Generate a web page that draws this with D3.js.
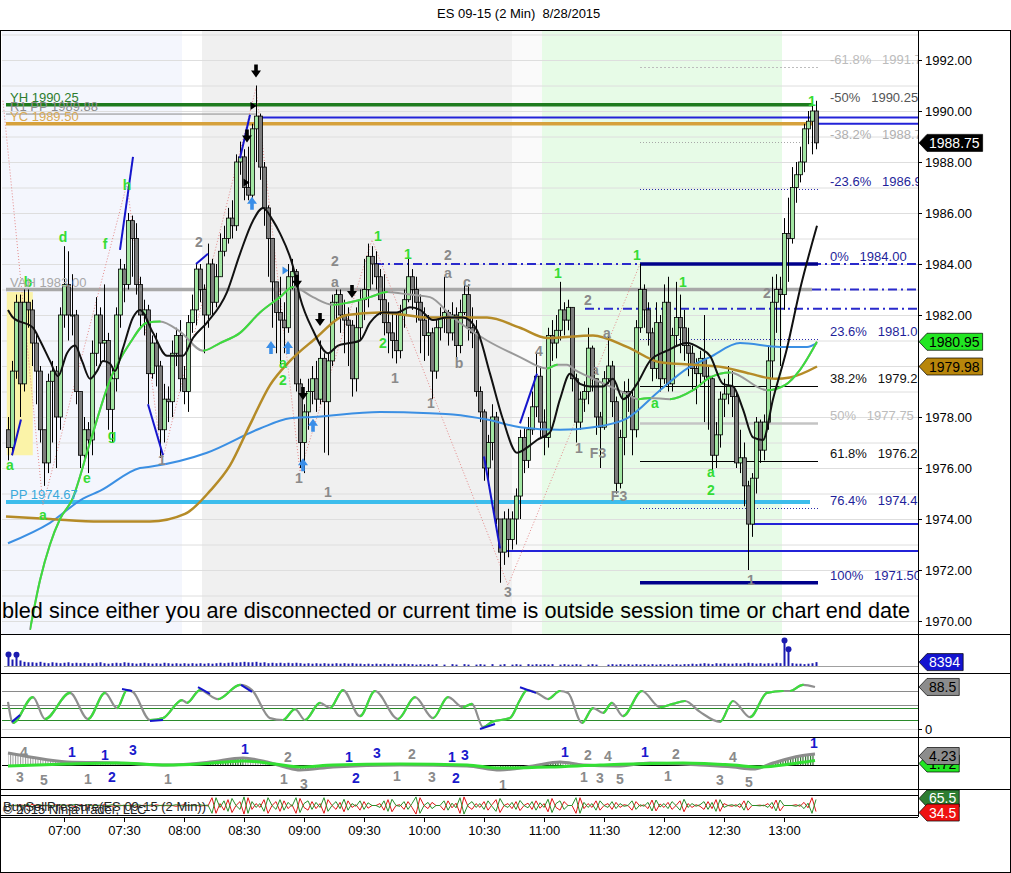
<!DOCTYPE html>
<html>
<head>
<meta charset="utf-8">
<title>ES 09-15 (2 Min) 8/28/2015</title>
<script src="https://cdn.jsdelivr.net/npm/d3@7"></script>
<style>
  body { margin: 0; background: #fff; }
  svg text { font-family: Arial, "Liberation Sans", sans-serif; }
</style>
</head>
<body>
<div id="chart"></div>
<script>
// ---- data ----
const chartTitle = 'ES 09-15 (2 Min)  8/28/2015';
const firstBarTime = '06:32', lastBarTime = '13:16';
const timeTicks = ['07:00','07:30','08:00','08:30','09:00','09:30','10:00','10:30','11:00','11:30','12:00','12:30','13:00'];
const priceTicks = [1970, 1972, 1974, 1976, 1978, 1980, 1982, 1984, 1986, 1988, 1990, 1992];
const firstOpen = 1977.5;

const closes = [
 1976.8,1979.8,1982.5,1979.3,1982.5,1982.2,1980.9,1979.8,1977.5,1976.2,
 1979.4,1979.8,1978.0,1982.0,1983.2,1982.0,1982.0,1979.0,1976.5,1977.5,
 1977.1,1980.5,1982.0,1980.9,1981.0,1978.3,1979.5,1982.0,1983.8,1983.2,
 1985.7,1985.0,1983.2,1982.0,1982.2,1979.7,1980.9,1980.0,1977.5,1978.7,
 1978.6,1980.5,1981.2,1979.5,1979.0,1981.7,1982.2,1983.8,1983.0,1982.0,
 1984.0,1982.5,1983.5,1984.5,1985.0,1985.8,1985.5,1988.0,1988.2,1987.0,
 1986.7,1989.3,1989.8,1987.8,1986.2,1985.0,1983.3,1982.1,1981.8,1981.5,
 1983.5,1983.7,1979.3,1977.0,1978.2,1979.0,1979.5,1978.7,1980.3,1978.6,
 1980.2,1982.5,1982.8,1982.0,1981.8,1981.6,1979.5,1981.5,1982.6,1983.0,
 1984.3,1984.0,1983.5,1982.6,1981.7,1981.3,1981.0,1980.6,1982.0,1982.6,
 1983.5,1983.0,1982.5,1981.8,1981.2,1981.3,1979.8,1981.5,1981.9,1982.1,
 1981.3,1982.0,1980.8,1982.1,1982.8,1981.5,1981.3,1979.0,1978.2,1976.0,
 1977.0,1978.0,1974.0,1972.7,1974.0,1973.2,1974.0,1974.9,1977.2,1976.3,
 1977.5,1978.4,1979.6,1977.8,1977.2,1981.2,1980.9,1981.4,1982.2,1981.8,
 1982.3,1979.5,1977.8,1978.7,1979.0,1980.7,1979.5,1978.0,1977.6,1979.5,
 1980.0,1978.6,1975.4,1977.2,1979.0,1978.8,1977.5,1981.5,1983.0,1982.2,
 1981.3,1979.9,1981.7,1979.5,1982.5,1979.3,1981.2,1981.9,1981.5,1980.8,
 1980.5,1979.9,1979.7,1980.3,1979.6,1979.5,1976.5,1977.3,1978.7,1978.9,
 1979.2,1978.8,1976.2,1976.4,1975.3,1973.8,1975.6,1977.8,1976.7,1977.8,
 1980.2,1982.5,1983.0,1982.8,1985.2,1985.0,1987.0,1987.5,1988.0,1989.3,
 1989.6,1990.0,1988.75];

const highs = [
 1978.0,1980.2,1982.8,1982.8,1983.0,1983.0,1982.6,1981.3,1980.0,1977.5,
 1979.7,1980.2,1980.0,1982.3,1984.7,1984.5,1983.6,1982.2,1978.5,1978.0,
 1977.8,1981.0,1982.7,1982.3,1983.2,1981.3,1980.0,1982.3,1984.2,1984.0,
 1986.0,1985.9,1985.6,1983.5,1982.6,1982.4,1981.2,1981.3,1980.2,1979.3,
 1979.2,1981.0,1981.5,1981.8,1980.0,1982.0,1982.8,1984.0,1984.0,1983.2,
 1984.8,1984.2,1984.0,1985.2,1985.5,1986.2,1986.5,1988.3,1988.8,1988.5,
 1988.6,1989.5,1991.0,1989.9,1988.0,1986.3,1985.0,1983.3,1983.5,1982.5,
 1984.0,1984.2,1983.8,1979.5,1978.5,1979.5,1980.0,1980.2,1981.0,1980.5,
 1980.5,1982.8,1983.0,1983.0,1982.6,1982.3,1981.8,1982.3,1983.0,1984.2,
 1984.8,1984.7,1984.5,1983.8,1983.6,1982.5,1982.1,1982.1,1982.4,1983.0,
 1984.3,1983.8,1983.5,1982.8,1982.3,1982.0,1981.5,1981.8,1982.3,1983.5,
 1982.2,1982.5,1982.3,1982.6,1983.2,1983.2,1982.3,1981.8,1979.2,1978.3,
 1977.3,1978.5,1978.2,1974.0,1974.3,1974.4,1974.3,1975.2,1977.5,1977.6,
 1978.0,1979.0,1980.5,1980.0,1978.3,1981.5,1981.8,1982.0,1983.3,1982.5,
 1982.6,1982.3,1979.7,1979.0,1979.4,1981.5,1980.8,1979.5,1978.2,1979.8,
 1981.2,1980.2,1978.8,1977.5,1979.4,1979.5,1979.0,1981.8,1984.0,1983.2,
 1982.5,1981.5,1982.5,1982.0,1983.2,1983.5,1981.5,1983.3,1982.8,1982.2,
 1981.5,1980.8,1980.3,1980.6,1982.0,1980.0,1979.6,1977.8,1979.0,1979.5,
 1980.0,1979.8,1979.0,1977.5,1977.0,1975.5,1975.8,1978.0,1977.9,1978.1,
 1980.8,1983.5,1983.6,1983.5,1985.8,1986.6,1987.8,1988.0,1988.6,1989.5,
 1990.0,1990.5,1990.4];

const lows = [
 1976.3,1976.5,1979.5,1978.0,1979.0,1981.5,1980.0,1978.5,1977.0,1975.3,
 1975.8,1977.0,1976.0,1977.5,1981.5,1981.0,1981.2,1978.5,1976.0,1976.3,
 1975.8,1976.5,1980.0,1980.0,1980.2,1977.5,1977.0,1979.0,1981.5,1982.5,
 1983.0,1983.5,1982.8,1981.5,1981.2,1978.5,1979.5,1979.2,1976.4,1977.0,
 1977.8,1978.0,1980.0,1979.0,1978.5,1978.2,1981.3,1981.6,1982.5,1980.5,
 1981.5,1982.0,1982.3,1983.5,1984.3,1984.8,1985.0,1985.3,1987.5,1986.5,
 1986.5,1986.6,1988.0,1987.3,1985.5,1983.5,1981.5,1980.5,1980.0,1980.5,
 1981.3,1983.0,1979.0,1976.0,1975.8,1977.5,1978.5,1978.2,1978.5,1976.6,
 1976.5,1980.0,1981.8,1981.3,1980.5,1980.0,1978.8,1979.0,1981.0,1981.8,
 1982.3,1983.2,1983.0,1982.0,1981.2,1980.5,1980.3,1980.1,1980.3,1981.5,
 1982.5,1982.2,1981.7,1980.5,1980.2,1980.4,1978.7,1979.5,1981.0,1981.3,
 1980.8,1981.0,1980.3,1980.5,1982.0,1981.0,1980.7,1978.8,1977.8,1975.5,
 1975.3,1976.3,1973.8,1971.5,1972.2,1972.5,1972.8,1973.0,1974.0,1975.8,
 1976.0,1977.3,1978.0,1977.2,1976.5,1976.8,1980.2,1980.3,1981.0,1981.2,
 1981.4,1979.0,1977.0,1977.5,1978.2,1978.5,1979.0,1977.3,1976.0,1977.5,
 1979.3,1978.0,1975.0,1975.2,1976.5,1978.2,1976.5,1977.2,1981.3,1981.5,
 1980.8,1979.4,1979.5,1979.0,1979.3,1979.0,1979.0,1980.8,1980.5,1980.2,
 1979.6,1979.0,1978.5,1979.2,1977.8,1977.5,1975.8,1976.0,1976.8,1978.0,
 1978.5,1978.0,1976.0,1975.8,1974.5,1972.0,1973.3,1975.0,1976.2,1976.3,
 1977.5,1979.5,1981.3,1980.0,1982.2,1983.3,1984.8,1986.4,1987.2,1987.6,
 1988.7,1988.3,1988.5];

// volume in thousands of contracts
const volumes = [
 25,14,24,12,9,8,8,7,9,7,  6,8,7,6,7,8,6,7,6,7,  6,6,7,8,6,5,6,7,6,8,  7,6,5,6,7,6,5,6,5,7,
 6,5,6,5,6,5,6,5,6,5,  6,5,6,7,6,7,8,7,8,9,  8,8,9,7,8,6,7,6,7,6,  7,6,7,6,5,6,5,6,5,6,
 5,5,6,5,6,5,6,5,5,4,  5,4,5,4,5,4,5,4,4,5,  4,4,3,4,3,4,3,4,0,3,  0,4,3,0,4,3,0,3,4,3,
 0,4,0,3,4,0,3,4,3,0,  4,3,4,3,4,3,4,0,3,4,  3,3,4,3,0,3,4,3,0,0,  3,4,3,4,3,4,3,4,3,4,
 3,4,3,4,3,4,3,4,3,4,  4,5,4,5,6,5,4,6,5,6,  5,5,6,5,6,7,6,5,6,5,  6,5,7,6,55,36,6,5,5,4,
 5,6,8.394];

const buyPressure = [
 52,49,51,48,50,53,47,50,52,49, 51,50,48,52,50,49,51,53,48,50, 52,49,50,51,48,50,52,50,49,51,
 50,48,52,51,49,50,52,48,50,51, 49,50,52,50,48,51,50,49,52,50, 51,
 30,70,45,62,35,68,50,40,72,30, 60,45,55,35,70,50,40,65,38,58, 48,70,32,55,62,40,58,45,70,35,
 50,60,42,66,38,55,48,62,40,57, 50,50,45,62,35,66,50,48,60,40, 55,72,30,50,58,42,50,50,62,38,
 56,44,70,28,52,60,45,55,40,62, 48,35,68,50,45,58,40,63,50,44, 60,38,57,45,66,32,55,62,40,50,
 50,70,30,58,45,55,38,62,50,45, 60,42,55,48,50,62,40,52,48,58, 36,64,46,55,42,60,50,38,66,45,
 55,48,52,60,40,58,35,65,45,50, 52,48,55,38,62,50,50,49,51,45, 58,36,64,50,50,50,48,52,42,56,
 30,65.5];

// moving averages as [bar, price]
const fastMA = [[0,1982.2],[1.25,1981.9],[6.25,1981.5],[8,1981.0],[10.5,1980.2],[12.5,1979.6],[14.75,1980.5],[16.75,1980.8],[18.5,1980.2],[20.5,1979.5],[22.25,1979.8],[23.75,1980.2],[25.5,1980.1],[26.75,1979.8],[28.75,1980.7],[31.25,1981.9],[33,1982.2],[36.25,1981.3],[39.75,1980.4],[43.75,1980.4],[46.25,1981.1],[49.75,1981.7],[54.75,1982.9],[58,1984.4],[61.25,1985.7],[63.75,1986.2],[66.25,1985.7],[68,1985.2],[71.25,1983.9],[73,1982.7],[76.25,1981.4],[80,1980.5],[82.5,1980.8],[85.5,1980.9],[88,1981.0],[90.5,1981.7],[93.75,1982.1],[97.25,1982.1],[100.5,1982.3],[103,1982.2],[106.25,1981.8],[109.75,1981.9],[113.75,1981.9],[117.25,1981.4],[120.5,1979.7],[123.75,1977.9],[127.25,1976.6],[129.75,1976.8],[132.25,1977.1],[135.5,1977.4],[138,1978.7],[140.5,1979.7],[143,1979.3],[145.5,1979.2],[148.75,1979.2],[151.25,1979.5],[153.75,1978.7],[157.25,1979.3],[160.5,1980.2],[164.75,1980.6],[169.75,1980.9],[173,1980.7],[175.5,1980.4],[178.75,1979.3],[181.25,1979.2],[183.75,1978.3],[186.25,1977.2],[188.75,1977.1],[191.25,1978.7],[194.75,1980.7],[198,1983.0],[202.25,1985.5]];
const midMA = [[5.5,1969.65],[8,1971.6],[10.5,1973.0],[13,1974.0],[16,1974.75],[20.5,1977.0],[25.5,1979.45],[30.5,1980.9],[34.75,1981.7],[38,1981.75],[43,1981.35],[48.75,1980.6],[53,1980.9],[58,1981.3],[63,1982.1],[68,1982.7],[71.25,1983.1],[76.25,1982.7],[81.25,1982.4],[85.5,1982.5],[90.5,1982.7],[94.75,1982.9],[100.5,1982.8],[105.5,1982.7],[111.25,1981.9],[119.75,1981.0],[128,1980.35],[134.75,1979.9],[137.25,1980.05],[139.75,1980.05],[141.75,1979.85],[146.25,1979.5],[154.75,1978.9],[157.5,1978.7],[160.5,1978.75],[165.5,1978.7],[171.25,1979.05],[175.5,1979.55],[180.5,1979.75],[189.75,1979.05],[194.25,1979.25],[198,1979.85],[202.25,1980.95]];
const slowMA = [[-0.5,1974.1],[10.5,1974.0],[23,1973.9],[35.5,1973.9],[44.25,1974.2],[50.5,1975.1],[55.5,1976.1],[60.5,1977.7],[65.5,1979.25],[70.5,1980.2],[76.25,1981.0],[84.75,1982.0],[93,1982.1],[105.5,1981.9],[119.75,1981.9],[128,1981.5],[134.75,1981.1],[146.25,1981.2],[154.75,1980.75],[163,1980.15],[171.25,1980.05],[178.75,1979.95],[185.5,1979.7],[191.75,1979.5],[195.5,1979.55],[202.25,1979.98]];
const longMA = [[0,1973.05],[10.5,1973.85],[18.75,1974.8],[23,1975.1],[33,1976.0],[35.5,1976.05],[49.75,1976.6],[63,1977.55],[70.5,1977.95],[76.25,1978.0],[93,1978.2],[105.5,1978.15],[111.25,1978.1],[119.75,1977.9],[128,1977.6],[138,1977.5],[146.25,1977.6],[154.75,1977.95],[163,1979.05],[169.75,1979.9],[175.5,1980.35],[183,1980.9],[193,1980.75],[199.75,1980.75],[202.25,1980.9]];

// horizontal levels [price, fromBar, toBar (null = to axis), kind]
const levelLines = [
  [1983.00, -0.5, 201, 'vah'],
  [1974.67, -0.5, 200.5, 'pp'],
  [1989.88, -0.5, 62, 'r1'],
  [1989.75, 62, null, 'blue'],
  [1989.50, 202.25, null, 'blue'],
  [1990.25, -0.5, 201, 'yh'],
  [1989.50, -0.5, 201, 'yc'],
  [1984.00, 91.75, null, 'dashdot'],
  [1983.00, 201, null, 'dashdot'],
  [1982.25, 144.25, null, 'dashdot'],
  [1973.80, 186, null, 'blue'],
  [1972.75, 123, null, 'blue'],
  [1984.00, 158, 202.5, 'navy'],
  [1971.50, 158, 202.5, 'navy']
];
const levelTexts = [['YH 1990.25', 1990.25, 'yh'], ['R1 PP 1989.88', 1989.88, 'r1'], ['YC 1989.50', 1989.50, 'yc'], ['VAH 1983.00', 1983.00, 'vah'], ['PP 1974.67', 1974.67, 'pp']];

const fibLabels = ['-61.8%','-50%','-38.2%','-23.6%','0%','23.6%','38.2%','50%','61.8%','76.4%','100%'];
const fibPrices = [1991.73, 1990.25, 1988.78, 1986.95, 1984.00, 1981.05, 1979.23, 1977.75, 1976.28, 1974.45, 1971.50];
const fibSpan = [158, 202.5];

const sessionStarts = ['06:29','08:09','10:44','10:59'];
const sessionEnds = ['07:59','10:44','10:59','12:59'];
const valueZone = [-0.3, 6.2, 1976.5, 1982.9];

const swingPoints = [[-1.25,1990.4],[8.75,1974.55],[29.75,1987.15],[38.5,1976.25],[62,1990.9],[73,1975.85],[91,1984.95],[125,1971.4],[158,1984.0]];
const trendSegments = [[1,1976.5,3.25,1977.9],[28,1984.55,31.25,1988.2],[35,1978.5,38.75,1976.5],[47,1984.0,50,1984.4],[58,1988.15,60.5,1989.85],[119,1976.45,123,1972.85],[128,1977.75,132.25,1979.7]];
const downArrows = [[62,1991.55],[59.75,1989.0],[72.25,1983.3],[78,1981.8],[86,1982.9],[73.75,1978.9]];
const upArrows = [[61,1986.4],[65.75,1980.75],[70,1980.75],[76.25,1977.7],[73.75,1976.15]];
const sideMarks = [[61.25,1990.2,'#000'],[59.5,1987.2,'#000'],[69.25,1983.75,'#3a8ee8']];

const greenLabels = [[0.5,1976.1,'a'],[5,1983.3,'b'],[13.75,1985.05,'d'],[24.25,1984.8,'f'],[29.75,1987.1,'h'],[19.75,1975.6,'e'],[26,1977.3,'g'],[8.75,1974.15,'a'],
  [92.5,1985.1,'1'],[100,1984.4,'1'],[93.75,1980.9,'2'],[68.75,1980.1,'a'],[68.75,1979.45,'2'],[137.5,1983.65,'1'],[157.25,1984.35,'1'],[168.75,1983.3,'1'],
  [161.75,1978.55,'a'],[175.75,1975.85,'a'],[175.75,1975.15,'2'],[201,1990.4,'1']];
const grayLabels = [[47.75,1984.85,'2'],[38.5,1976.3,'1'],[81.75,1984.1,'2'],[81.75,1983.3,'a'],[110,1984.35,'2'],[110,1983.65,'a'],[114.75,1983.3,'c'],[112.75,1980.1,'b'],
  [96.75,1979.55,'1'],[105.75,1978.55,'1'],[72.75,1975.6,'1'],[80,1975.05,'1'],[125,1971.15,'3'],[132.75,1980.6,'4'],[145,1982.6,'2'],[149.75,1981.3,'a'],
  [146.75,1979.85,'a'],[142.75,1976.8,'1'],[147.5,1976.6,'F3'],[152.75,1974.9,'F3'],[185.75,1971.6,'1'],[189.75,1982.85,'2']];

const disconnectedMsg = 'bled since either you are disconnected or current time is outside session time or chart end date';

// oscillator [bar, value]
const oscillator = [[0,57],[1.25,13],[6.25,67],[9.25,21],[15.5,76],[20,21],[24.25,76],[27.25,44],[29.75,82],[31.25,78],[35.5,19],[38.75,23],[43.5,61],[44.75,55],[48,82],[52.5,63],[58,93],[61,82],[65.5,23],[68.75,19],[71.75,42],[74.25,19],[78,55],[80.5,44],[83.75,82],[88,27],[91.75,80],[97.5,21],[101.75,67],[106.25,23],[110,67],[113.75,46],[116,53],[118.75,4],[121,15],[125.5,23],[128,61],[129.75,82],[132.25,76],[135,63],[138,80],[140,76],[143.5,13],[146.25,44],[148.75,34],[151,55],[153.75,27],[158.5,80],[163,46],[166.25,53],[169.25,59],[173,36],[178,15],[181.25,59],[185.5,25],[189.75,76],[193.75,80],[195.5,80],[198.75,93],[201.75,88.5]];
const oscLevels = [80, 50, 45, 20, 0];
const oscSegments = [[1,15,3,29.5],[28.5,84,31,80],[35.5,17,38.75,19],[47.5,88,50.5,74],[58.25,93,61,78],[118,0,121.75,10.5],[128,88,132,76]];

// momentum panel [bar, value]
const momentumSlow = [[0,4.6],[5.5,3.1],[14.75,1.15],[27.25,0.77],[39.75,0],[50.5,1.15],[58.75,2.7],[64.75,1.15],[69.25,-0.77],[73,-1.9],[81.25,-0.77],[98,0],[114.75,-0.38],[123,-1.9],[131.25,-0.38],[138,1.15],[143.75,0],[152.25,-0.38],[160.5,0.77],[173,0],[181.25,-0.77],[186.25,-1.54],[191.25,0.77],[198,3.46],[201.75,4.23]];
const momentumFast = [[0,-0.38],[14.75,0.38],[27.25,0.77],[39.75,0],[48,0.38],[58.75,1.54],[66.75,0.38],[73,-0.77],[81.25,0],[98,0.38],[114.75,0],[123,-1.15],[135.5,-0.77],[148,0],[168.75,0.77],[181.25,0],[188,-0.77],[195.5,0.38],[201.75,1.72]];
const momentumBlueLabels = [[16,5,'1'],[24.25,3.85,'1'],[26,-4.6,'2'],[31.25,5.8,'3'],[59.25,6.15,'1'],[85.25,3.1,'1'],[92.25,4.6,'3'],[87,-5,'2'],[111,3.1,'1'],[114.25,3.85,'3'],[112,-5,'2'],[139.25,5,'1'],[159.25,5,'1'],[201.5,8.6,'1']];
const momentumGrayLabels = [[4,5,'4'],[3,-4.6,'3'],[9,-5.8,'5'],[20,-5.4,'1'],[40,-5.4,'1'],[70,3.1,'2'],[69,-5.4,'1'],[74,-7.3,'3'],[97.25,-4.2,'1'],[101,4.2,'2'],[106,-4.6,'3'],[123.75,-7.7,'1'],[145,3.85,'2'],[150,3.5,'4'],[144,-4.6,'1'],[148,-5,'3'],[153,-5.4,'5'],[167,4.2,'2'],[165,-4.2,'1'],[181.25,3.1,'4'],[178,-5.8,'3'],[185.25,-6.5,'5']];
const bspTitle = 'BuySellPressure(ES 09-15 (2 Min))';
const copyright = '\u00a9 2015 NinjaTrader, LLC';

// ---- drawing ----
const W = 1011, H = 873, AX = 918;
const svg = d3.select('#chart').append('svg').attr('width', W).attr('height', H);
const defs = svg.append('defs');
const parseT = d3.timeParse('%Y-%m-%d %H:%M');
const at = s => parseT('2015-08-28 ' + s);

const x = d3.scaleLinear().domain([0, closes.length - 1]).range([8, 816]);
const xt = d3.scaleTime().domain([at(firstBarTime), at(lastBarTime)]).range([8, 816]);
const y = d3.scaleLinear().domain([1970, 1992]).range([621, 60]);
const yVol = d3.scaleLinear().domain([0, 56]).range([666, 640]);
const yOsc = d3.scaleLinear().domain([0, 100]).range([729, 681.5]);
const yMom = d3.scaleLinear().domain([0, 4.23]).range([765, 754]);
const yBsp = d3.scaleLinear().domain([0, 100]).range([825, 786]);

const panels = {main: [30, 634], vol: [634, 673], osc: [673, 737], mom: [737, 789], bsp: [795, 815]};
Object.entries(panels).forEach(([k, [t, b]]) => {
  defs.append('clipPath').attr('id', 'clip-' + k).append('rect')
    .attr('x', 2).attr('y', t).attr('width', AX - 2).attr('height', b - t);
});
defs.append('clipPath').attr('id', 'clip-left').append('rect').attr('x', 0).attr('y', 0).attr('width', AX).attr('height', H);

['#2a7a2a', '#9a9a9a'].forEach((c, k) => {
  const p = defs.append('pattern').attr('id', 'hatch' + k).attr('patternUnits', 'userSpaceOnUse')
    .attr('width', 2.5).attr('height', 4);
  p.append('rect').attr('x', 0).attr('y', 0).attr('width', 1).attr('height', 4).attr('fill', c);
});

let clipCount = 0;
// one smooth line, green where rising, other colour where falling
function twoTone(g, pts, ys, up, down, width) {
  const gen = d3.line().x(d => x(d[0])).y(d => ys(d[1])).curve(d3.curveMonotoneX);
  g.append('path').attr('d', gen(pts)).attr('fill', 'none').attr('stroke', down)
    .attr('stroke-width', width).attr('stroke-linejoin', 'round');
  const id = 'tt' + (clipCount++);
  const cp = defs.append('clipPath').attr('id', id);
  d3.pairs(pts).forEach(([a, b]) => {
    if (b[1] > a[1]) cp.append('rect').attr('x', x(a[0])).attr('y', 0)
      .attr('width', x(b[0]) - x(a[0]) + 0.6).attr('height', H);
  });
  g.append('path').attr('d', gen(pts)).attr('fill', 'none').attr('stroke', up)
    .attr('stroke-width', width).attr('stroke-linejoin', 'round').attr('clip-path', `url(#${id})`);
  return id;
}

function labels(g, list, ys, color, size) {
  g.selectAll(null).data(list).join('text')
    .attr('x', d => x(d[0])).attr('y', d => ys(d[1])).attr('dy', '0.36em')
    .attr('text-anchor', 'middle').attr('font-weight', 'bold').attr('font-size', size || 13)
    .attr('fill', color).text(d => d[2]);
}

// title
svg.append('text').attr('x', 437).attr('y', 18).attr('font-size', 13).attr('fill', '#000')
  .style('white-space', 'pre').text(chartTitle);

// ---- main price panel ----
const gMain = svg.append('g').attr('clip-path', 'url(#clip-main)');
const sessionFills = ['#f4f6fd', '#f0f0f0', '#fafafa', '#e7fbe7'];
sessionStarts.forEach((s, k) => {
  gMain.append('rect').attr('x', xt(at(s))).attr('y', 30)
    .attr('width', xt(at(sessionEnds[k])) - xt(at(s))).attr('height', 604).attr('fill', sessionFills[k]);
});
gMain.selectAll('line.grid').data(d3.range(1969, 1994)).join('line').attr('class', 'grid')
  .attr('x1', 2).attr('x2', AX).attr('y1', d => y(d) + 0.5).attr('y2', d => y(d) + 0.5)
  .attr('stroke', '#dedede').attr('stroke-width', 1);

gMain.append('rect').attr('x', x(valueZone[0])).attr('width', x(valueZone[1]) - x(valueZone[0]))
  .attr('y', y(valueZone[3])).attr('height', y(valueZone[2]) - y(valueZone[3])).attr('fill', '#fbf3a8');

const levelStyle = {
  vah: {c: '#a8a8a8', w: 3.5}, pp: {c: '#3dbdec', w: 4}, r1: {c: '#8a8a8a', w: 1},
  blue: {c: '#2323d8', w: 2}, yh: {c: '#1e7b1e', w: 3.5}, yc: {c: '#d6a13c', w: 3.5},
  dashdot: {c: '#2a2acc', w: 2, dash: '9,4,2,4'}, navy: {c: '#00008b', w: 3.5}
};
levelLines.forEach(([p, a, b, kind]) => {
  const st = levelStyle[kind];
  gMain.append('line').attr('x1', x(a)).attr('x2', b === null ? AX : x(b))
    .attr('y1', y(p)).attr('y2', y(p)).attr('stroke', st.c).attr('stroke-width', st.w)
    .attr('stroke-dasharray', st.dash || null);
});

// fib retracement lines
const fibLine = [
  {c: '#bdbdbd', w: 1.2, dash: '2,2'}, null, {c: '#a8a8a8', w: 1, dash: '1,2'}, {c: '#2a2aaa', w: 1, dash: '1,2'},
  null, {c: '#2a2aaa', w: 1, dash: '1,2'}, {c: '#000', w: 1}, {c: '#c4c4c4', w: 2.5}, {c: '#000', w: 1},
  {c: '#2a2aaa', w: 1, dash: '1,2'}, null
];
fibPrices.forEach((p, k) => {
  const st = fibLine[k];
  if (!st) return;
  gMain.append('line').attr('x1', x(fibSpan[0])).attr('x2', x(fibSpan[1]))
    .attr('y1', Math.round(y(p)) + 0.5).attr('y2', Math.round(y(p)) + 0.5)
    .attr('stroke', st.c).attr('stroke-width', st.w).attr('stroke-dasharray', st.dash || null);
});

// swing zigzag
gMain.append('path').attr('d', d3.line().x(d => x(d[0])).y(d => y(d[1]))(swingPoints))
  .attr('fill', 'none').attr('stroke', '#e48a8a').attr('stroke-width', 1).attr('stroke-dasharray', '1,2');

// candles
const bars = closes.map((c, i) => {
  const o = i ? closes[i - 1] : firstOpen;
  return {i, o, c, h: Math.max(highs[i], o, c), l: Math.min(lows[i], o, c)};
});
const gBars = gMain.append('g');
gBars.selectAll('line').data(bars).join('line')
  .attr('x1', d => Math.round(x(d.i)) + 0.5).attr('x2', d => Math.round(x(d.i)) + 0.5)
  .attr('y1', d => y(d.h)).attr('y2', d => y(d.l)).attr('stroke', '#000').attr('stroke-width', 1);
gBars.selectAll('rect').data(bars).join('rect')
  .attr('x', d => Math.round(x(d.i)) - 1.5).attr('width', 4)
  .attr('y', d => y(Math.max(d.o, d.c))).attr('height', d => Math.max(1, Math.abs(y(d.o) - y(d.c))))
  .attr('fill', d => d.c >= d.o ? '#a2e6a2' : '#7c7c7c').attr('stroke', '#000').attr('stroke-width', 0.8);

// moving averages
const smooth = d3.line().x(d => x(d[0])).y(d => y(d[1])).curve(d3.curveMonotoneX);
gMain.append('path').attr('d', smooth(longMA)).attr('fill', 'none').attr('stroke', '#3b8fe3').attr('stroke-width', 2);
gMain.append('path').attr('d', smooth(slowMA)).attr('fill', 'none').attr('stroke', '#b58b27').attr('stroke-width', 2.5);
twoTone(gMain, midMA, y, '#3ddc3d', '#9a9a9a', 2);
gMain.append('path').attr('d', smooth(fastMA)).attr('fill', 'none').attr('stroke', '#111').attr('stroke-width', 2);

// trend segments
gMain.selectAll('line.trend').data(trendSegments).join('line').attr('class', 'trend')
  .attr('x1', d => x(d[0])).attr('y1', d => y(d[1])).attr('x2', d => x(d[2])).attr('y2', d => y(d[3]))
  .attr('stroke', '#1515cc').attr('stroke-width', 2);

// arrows
const arrowDown = 'M-1.8,-7 h3.6 v6 h3.2 l-5,7 l-5,-7 h3.2 z';
gMain.selectAll('path.dn').data(downArrows).join('path').attr('class', 'dn')
  .attr('d', arrowDown).attr('transform', d => `translate(${x(d[0])},${y(d[1])})`).attr('fill', '#000');
gMain.selectAll('path.up').data(upArrows).join('path').attr('class', 'up')
  .attr('d', arrowDown).attr('transform', d => `translate(${x(d[0])},${y(d[1])}) rotate(180)`).attr('fill', '#3a8ee8');
gMain.selectAll('path.side').data(sideMarks).join('path').attr('class', 'side')
  .attr('d', 'M-2.5,-4 L3.5,0 L-2.5,4 Z').attr('transform', d => `translate(${x(d[0])},${y(d[1])})`)
  .attr('fill', d => d[2]);

labels(gMain, greenLabels, y, '#35dc35', 14);
labels(gMain, grayLabels, y, '#8a8a8a', 14);

// level captions
const levelTextColor = {yh: '#2e7d2e', r1: '#8d8d8d', yc: '#d9aa55', vah: '#a8a8a8', pp: '#3aa9dc'};
levelTexts.forEach(([t, p, kind]) => {
  gMain.append('text').attr('x', 10).attr('y', y(p) - 3).attr('font-size', 13)
    .attr('fill', levelTextColor[kind]).text(t);
});

// fib captions
const fibTextColor = ['#bcbcbc', '#555', '#b0b0b0', '#1f1f9a', '#1f1f9a', '#1f1f9a', '#111', '#bcbcbc', '#111', '#1f1f9a', '#1f1f9a'];
const gFibText = svg.append('g').attr('clip-path', 'url(#clip-left)');
fibPrices.forEach((p, k) => {
  gFibText.append('text').attr('x', 830).attr('y', y(p) - 3).attr('font-size', 13)
    .attr('fill', fibTextColor[k]).style('white-space', 'pre')
    .text(fibLabels[k] + '   ' + p.toFixed(2));
});

gMain.append('text').attr('x', 2).attr('y', 618).attr('font-size', 22).attr('fill', '#000')
  .attr('textLength', 908).attr('lengthAdjust', 'spacingAndGlyphs').text(disconnectedMsg);

// ---- volume ----
const gVol = svg.append('g').attr('clip-path', 'url(#clip-vol)');
gVol.append('line').attr('x1', 4).attr('x2', AX).attr('y1', 666.5).attr('y2', 666.5).attr('stroke', '#a0a0a0');
gVol.selectAll('line.v').data(volumes.map((v, i) => [i, v]).filter(d => d[1] > 0)).join('line').attr('class', 'v')
  .attr('x1', d => Math.round(x(d[0])) + 0.5).attr('x2', d => Math.round(x(d[0])) + 0.5)
  .attr('y1', yVol(0)).attr('y2', d => yVol(d[1])).attr('stroke', '#1b1bb0').attr('stroke-width', 2);
gVol.selectAll('circle').data(volumes.map((v, i) => [i, v]).filter(d => d[1] > 20)).join('circle')
  .attr('cx', d => x(d[0]) + 0.5).attr('cy', d => yVol(d[1])).attr('r', 3).attr('fill', '#1b1bb0');

// ---- oscillator ----
const gOsc = svg.append('g').attr('clip-path', 'url(#clip-osc)');
const oscLevelColor = ['#8a8a8a', '#8a8a8a', '#2a8a2a', '#2a8a2a', '#d6d6d6'];
oscLevels.forEach((v, k) => {
  gOsc.append('line').attr('x1', 2).attr('x2', AX).attr('y1', Math.round(yOsc(v)) + 0.5).attr('y2', Math.round(yOsc(v)) + 0.5)
    .attr('stroke', oscLevelColor[k]).attr('stroke-width', 1);
});
twoTone(gOsc, oscillator, yOsc, '#3ddc3d', '#8f8f8f', 2.2);
gOsc.selectAll('line.s').data(oscSegments).join('line').attr('class', 's')
  .attr('x1', d => x(d[0])).attr('y1', d => yOsc(d[1])).attr('x2', d => x(d[2])).attr('y2', d => yOsc(d[3]))
  .attr('stroke', '#1515cc').attr('stroke-width', 2);

// ---- momentum ----
const gMom = svg.append('g').attr('clip-path', 'url(#clip-mom)');
const area = d3.area().x(d => x(d[0])).y0(yMom(0)).y1(d => yMom(d[1])).curve(d3.curveMonotoneX);
gMom.append('path').attr('d', area(momentumSlow)).attr('fill', 'url(#hatch1)');
const riseId = 'tt' + clipCount;
const cpRise = defs.append('clipPath').attr('id', riseId); clipCount++;
d3.pairs(momentumSlow).forEach(([a, b]) => {
  if (b[1] > a[1]) cpRise.append('rect').attr('x', x(a[0])).attr('y', 0).attr('width', x(b[0]) - x(a[0]) + 0.6).attr('height', H);
});
gMom.append('path').attr('d', area(momentumSlow)).attr('fill', 'url(#hatch0)').attr('clip-path', `url(#${riseId})`);
gMom.append('line').attr('x1', 2).attr('x2', AX).attr('y1', yMom(0) + 0.5).attr('y2', yMom(0) + 0.5).attr('stroke', '#000');
const momLine = d3.line().x(d => x(d[0])).y(d => yMom(d[1])).curve(d3.curveMonotoneX);
gMom.append('path').attr('d', momLine(momentumSlow)).attr('fill', 'none').attr('stroke', '#8c8c8c').attr('stroke-width', 3);
gMom.append('path').attr('d', momLine(momentumFast)).attr('fill', 'none').attr('stroke', '#33e033').attr('stroke-width', 3);
labels(gMom, momentumBlueLabels, yMom, '#1a1acc', 14);
labels(gMom, momentumGrayLabels, yMom, '#8a8a8a', 14);

// ---- buy / sell pressure ----
const gBsp = svg.append('g').attr('clip-path', 'url(#clip-bsp)');
const bspLine = d3.line().x((d, i) => x(i)).y(d => yBsp(d));
gBsp.append('path').attr('d', bspLine(buyPressure.map(v => 100 - v))).attr('fill', 'none').attr('stroke', '#e01818').attr('stroke-width', 1);
gBsp.append('path').attr('d', bspLine(buyPressure)).attr('fill', 'none').attr('stroke', '#2a8f2a').attr('stroke-width', 1);
gBsp.append('text').attr('x', 3).attr('y', 814).attr('font-size', 13).attr('fill', '#222').text(copyright);
gBsp.append('text').attr('x', 3).attr('y', 811).attr('font-size', 13).attr('fill', '#222').text(bspTitle);

// ---- frames ----
const frame = svg.append('g').attr('stroke', '#000').attr('stroke-width', 1);
frame.append('rect').attr('x', 0.5).attr('y', 30.5).attr('width', W - 1).attr('height', H - 31).attr('fill', 'none');
[634, 673, 737, 789].forEach(v => frame.append('line').attr('x1', 0).attr('x2', W).attr('y1', v + 0.5).attr('y2', v + 0.5));
[795, 815, 817].forEach(v => frame.append('line').attr('x1', 0).attr('x2', AX).attr('y1', v + 0.5).attr('y2', v + 0.5));
frame.append('line').attr('x1', AX + 0.5).attr('x2', AX + 0.5).attr('y1', 30).attr('y2', 817);

// ---- axes ----
const yAxis = svg.append('g').attr('transform', `translate(${AX},0)`)
  .call(d3.axisRight(y).tickValues(priceTicks).tickFormat(d3.format('.2f')).tickSize(4).tickPadding(3));
yAxis.select('.domain').remove();
yAxis.selectAll('text').attr('font-size', 13).attr('font-family', 'Arial, "Liberation Sans", sans-serif').attr('fill', '#000');

const oAxis = svg.append('g').attr('transform', `translate(${AX},0)`)
  .call(d3.axisRight(yOsc).tickValues([0]).tickSize(4).tickPadding(3));
oAxis.select('.domain').remove();
oAxis.selectAll('text').attr('font-size', 13).attr('font-family', 'Arial, "Liberation Sans", sans-serif');

const xAxis = svg.append('g').attr('transform', 'translate(0,817)')
  .call(d3.axisBottom(xt).tickValues(timeTicks.map(at)).tickFormat(d3.timeFormat('%H:%M')).tickSize(5).tickPadding(4));
xAxis.select('.domain').remove();
xAxis.selectAll('text').attr('font-size', 13).attr('font-family', 'Arial, "Liberation Sans", sans-serif').attr('fill', '#000');

// ---- value tags on the right ----
function tag(yPos, text, fill, txt) {
  const g = svg.append('g');
  const path = g.append('path');
  const t = g.append('text').attr('x', 929).attr('y', yPos).attr('dy', '0.36em').attr('font-size', 14).attr('fill', txt).text(text);
  const w = t.node().getComputedTextLength() + 5;
  path.attr('d', `M${AX + 1},${yPos} L927,${yPos - 8.5} L${927 + w},${yPos - 8.5} L${927 + w},${yPos + 8.5} L927,${yPos + 8.5} Z`)
    .attr('fill', fill).attr('stroke', '#000').attr('stroke-width', 0.7);
}
const lastOf = a => a[a.length - 1];
tag(y(lastOf(closes)), lastOf(closes).toFixed(2), '#000', '#fff');
tag(y(lastOf(midMA)[1]), lastOf(midMA)[1].toFixed(2), '#22e622', '#000');
tag(y(lastOf(slowMA)[1]), lastOf(slowMA)[1].toFixed(2), '#b8860b', '#000');
tag(yVol(lastOf(volumes)), d3.format('d')(lastOf(volumes) * 1000), '#1414d0', '#fff');
tag(yOsc(lastOf(oscillator)[1]), lastOf(oscillator)[1].toFixed(1), '#8c8c8c', '#000');
tag(yMom(lastOf(momentumFast)[1]) + 3, lastOf(momentumFast)[1].toFixed(2), '#22e622', '#000');
tag(yMom(lastOf(momentumSlow)[1]) + 2, lastOf(momentumSlow)[1].toFixed(2), '#8c8c8c', '#000');
tag(yBsp(lastOf(buyPressure)) - 1, lastOf(buyPressure).toFixed(1), '#2e7d32', '#fff');
tag(yBsp(100 - lastOf(buyPressure)) + 1, (100 - lastOf(buyPressure)).toFixed(1), '#ee1111', '#fff');
</script>
</body>
</html>
